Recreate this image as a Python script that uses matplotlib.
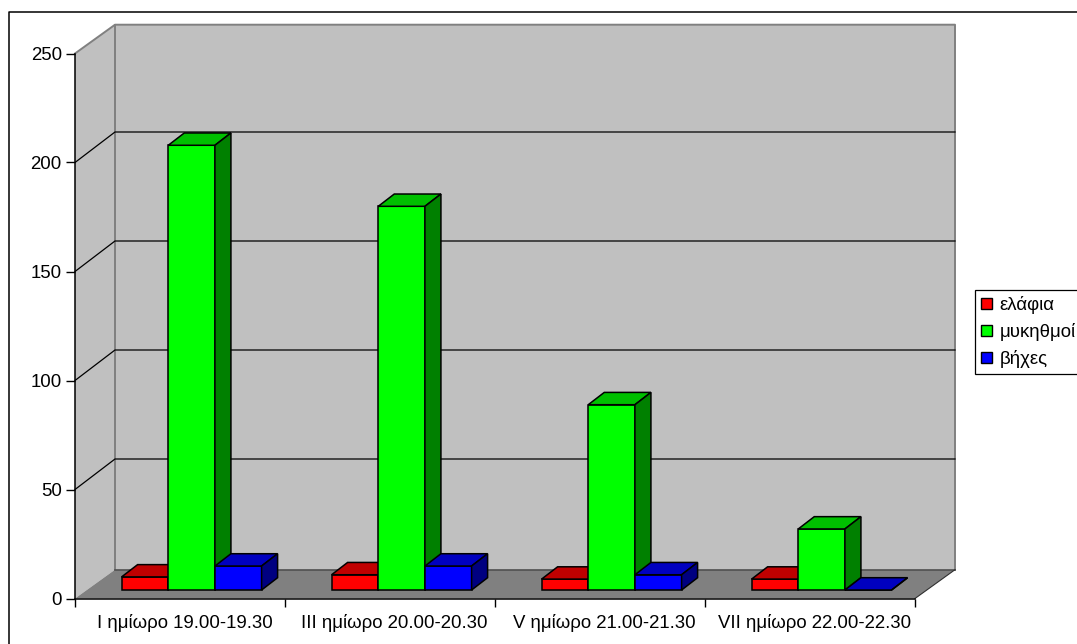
"""Excel style 3D column chart, drawn on a plain 2D axes."""

import matplotlib
matplotlib.use("Agg")
import matplotlib.pyplot as plt
from matplotlib.lines import Line2D
from matplotlib.patches import Patch, Polygon
from matplotlib.transforms import ScaledTranslation

categories = ["I ημίωρο 19.00-19.30", "III ημίωρο 20.00-20.30",
              "V ημίωρο 21.00-21.30", "VII ημίωρο 22.00-22.30"]
series_names = ["ελάφια", "μυκηθμοί", "βήχες"]
elafia = [6, 7, 5, 5]
mykithmoi = [204, 176, 85, 28]
viches = [11, 11, 7, 0]
y_ticks = [0, 50, 100, 150, 200, 250]

W, H = 1077, 644
LEFT, RIGHT, TOP, BOTTOM = 75, 915, 53.5, 598.5
px_x = (RIGHT - LEFT) / len(categories)
px_y = (BOTTOM - TOP) / 250

# depth of the box and of the bars, in data units
DX, DY = 40 / px_x, 28.8 / px_y
GRID_DY = 30.5 / px_y
OFF_X, OFF_Y = 11.6 / px_x, 8.5 / px_y
BAR_DX, BAR_DY = 16 / px_x, 12.3 / px_y
BAR_W = 1 / 4.5

shades = [("#FF0000", "#C00000", "#800000"),
          ("#00FF00", "#00C000", "#008000"),
          ("#0000FF", "#0000C0", "#000080")]

plt.rcParams["font.family"] = ["Liberation Sans", "DejaVu Sans"]
plt.rcParams["font.size"] = 13.4

fig = plt.figure(figsize=(W / 100, H / 100), dpi=100)
ax = fig.add_axes([LEFT / W, 1 - BOTTOM / H, (RIGHT - LEFT) / W, (BOTTOM - TOP) / H])
ax.set_xlim(0, len(categories))
ax.set_ylim(0, 250)
n = len(categories)


def poly(pts, face, edge="black", lw=1.1, z=2):
    ax.add_patch(Polygon(pts, closed=True, facecolor=face, edgecolor=edge,
                         linewidth=lw, joinstyle="miter", clip_on=False, zorder=z))


# walls and floor
poly([(0, 0), (DX, DY), (n + DX, DY), (n + DX, 250 + DY), (DX, 250 + DY), (0, 250)],
     "#C0C0C0", edge="none", z=1)
poly([(0, 0), (DX, DY), (n + DX, DY), (n, 0)], "#808080", edge="none", z=1)
wall_edge = [[(0, 250), (DX, 250 + DY), (n + DX, 250 + DY), (n + DX, DY)],
             [(DX, DY), (DX, 250 + DY)]]
for line in wall_edge:
    ax.plot(*zip(*line), color="#808080", lw=1.4, clip_on=False, zorder=1.2)
ax.plot([DX, n + DX], [DY, DY], color="#505050", lw=1.2, clip_on=False, zorder=1.2)
ax.plot([n, n + DX], [0, DY], color="#303030", lw=0.8, clip_on=False, zorder=1.2)

for v in y_ticks[1:-1]:
    ax.plot([0, DX, n + DX], [v, v + GRID_DY, v + GRID_DY], color="black", lw=0.9,
            clip_on=False, zorder=1.3)

# bars, left to right so later ones overlap properly
for i in range(n):
    for j, vals in enumerate([elafia, mykithmoi, viches]):
        v = vals[i]
        x0 = i + 0.5 - 1.5 * BAR_W + j * BAR_W + OFF_X
        x1 = x0 + BAR_W
        y0 = OFF_Y
        y1 = OFF_Y + v
        front, top, side = shades[j]
        poly([(x0, y0), (x1, y0), (x1, y1), (x0, y1)], front, z=3)
        poly([(x0, y1), (x1, y1), (x1 + BAR_DX, y1 + BAR_DY), (x0 + BAR_DX, y1 + BAR_DY)], top, z=3)
        poly([(x1, y0), (x1 + BAR_DX, y0 + BAR_DY), (x1 + BAR_DX, y1 + BAR_DY), (x1, y1)], side, z=3)

for s in ("top", "right"):
    ax.spines[s].set_visible(False)
for s in ("left", "bottom"):
    ax.spines[s].set_linewidth(1.1)
    ax.spines[s].set_zorder(2.5)
ax.patch.set_visible(False)

ax.set_yticks(y_ticks)
ax.set_xticks(range(n + 1))
ax.set_xticklabels([])
ax.set_xticks([i + 0.5 for i in range(n)], minor=True)
ax.set_xticklabels(categories, minor=True)
ax.tick_params(axis="x", which="minor", length=0, pad=11.5)
ax.tick_params(axis="x", which="major", length=5.8, width=1.0)
ax.tick_params(axis="y", length=6.5, width=1.0, pad=3)

# the labels sit a little right of the category centres
shift = ScaledTranslation(4.5 / 100, 0, fig.dpi_scale_trans)
for label in ax.get_xticklabels(minor=True):
    label.set_transform(label.get_transform() + shift)

# chart area border, only left and top are inside the picture
fig.add_artist(Line2D([8.5 / W, 8.5 / W, 1], [0, 1 - 11.5 / H, 1 - 11.5 / H],
                      color="black", lw=1.1))

handles = [Patch(facecolor=s[0], edgecolor="black", linewidth=1.0) for s in shades]
leg = fig.legend(handles, series_names, loc="upper left",
                 bbox_to_anchor=(975 / W, 1 - 290 / H), bbox_transform=fig.transFigure,
                 frameon=True, fancybox=False, edgecolor="black", framealpha=1,
                 borderaxespad=0, borderpad=0.33, labelspacing=0.48,
                 handlelength=0.6, handleheight=0.6, handletextpad=0.4)
leg.get_frame().set_linewidth(0.9)

fig.savefig("out.png", dpi=100)
